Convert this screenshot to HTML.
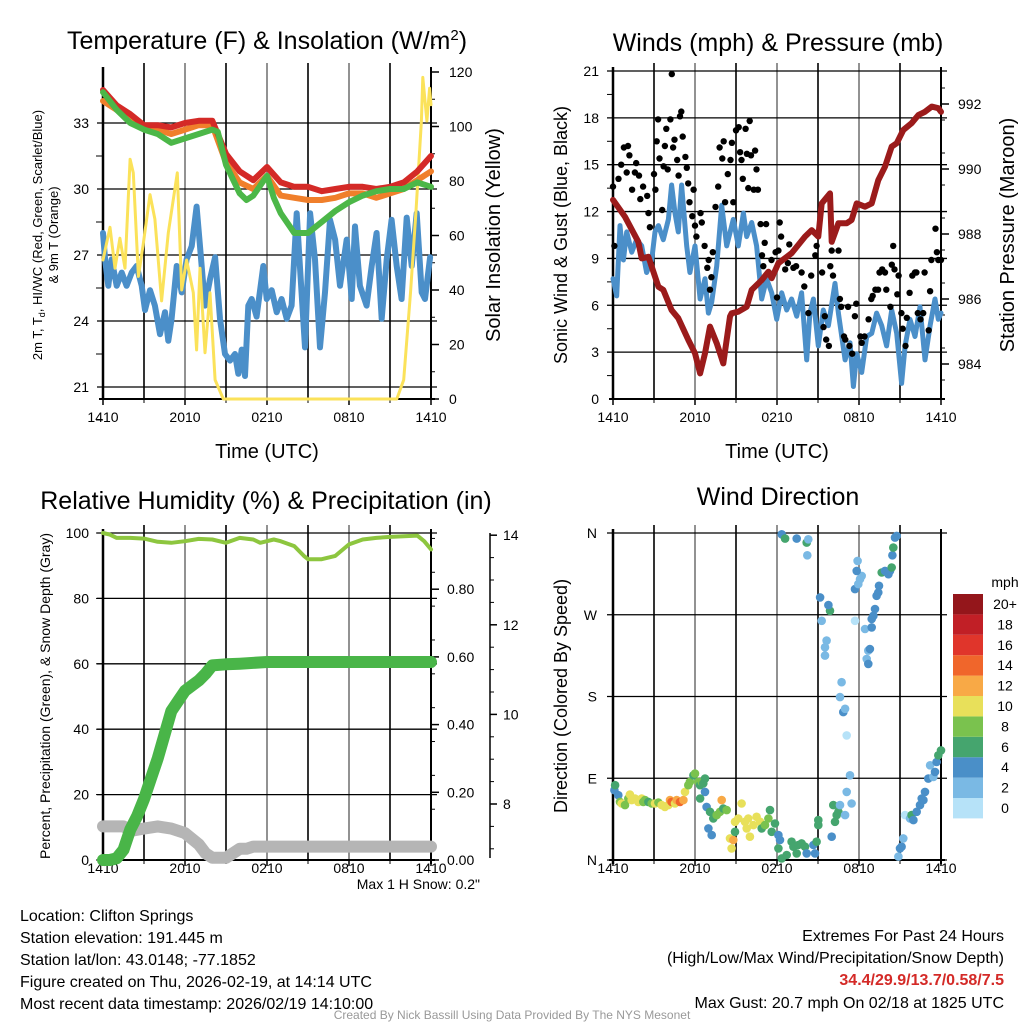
<!DOCTYPE html>
<html><head><meta charset="utf-8"><style>
body{margin:0;background:#fff;}
svg{display:block;font-family:"Liberation Sans",sans-serif;}
</style></head><body>
<svg id="c" width="1024" height="1024" viewBox="0 0 1024 1024">
<rect width="1024" height="1024" fill="#fff"/>
<text x="267" y="49" font-size="25" text-anchor="middle">Temperature (F) &amp; Insolation (W/m<tspan dy="-9" font-size="15">2</tspan><tspan dy="9">)</tspan></text>
<text x="778" y="51" font-size="25" text-anchor="middle">Winds (mph) &amp; Pressure (mb)</text>
<text x="266" y="509" font-size="25" text-anchor="middle">Relative Humidity (%) &amp; Precipitation (in)</text>
<text x="778" y="505" font-size="25" text-anchor="middle">Wind Direction</text>
<text transform="translate(42,235) rotate(-90)" font-size="13" text-anchor="middle">2m T, T<tspan dy="3" font-size="9">d</tspan><tspan dy="-3">, HI/WC (Red, Green, Scarlet/Blue)</tspan></text>
<text transform="translate(58,235) rotate(-90)" font-size="13" text-anchor="middle">&amp; 9m T (Orange)</text>
<text transform="translate(500,235) rotate(-90)" font-size="20" text-anchor="middle">Solar Insolation (Yellow)</text>
<text transform="translate(567,235) rotate(-90)" font-size="18" text-anchor="middle">Sonic Wind &amp; Gust (Blue, Black)</text>
<text transform="translate(1014,235) rotate(-90)" font-size="20" text-anchor="middle">Station Pressure (Maroon)</text>
<text transform="translate(50,696) rotate(-90)" font-size="14" text-anchor="middle">Percent, Precipitation (Green), &amp; Snow Depth (Gray)</text>
<text transform="translate(567,696) rotate(-90)" font-size="18" text-anchor="middle">Direction (Colored By Speed)</text>
<text x="267" y="458" font-size="20" text-anchor="middle">Time (UTC)</text>
<text x="777" y="458" font-size="20" text-anchor="middle">Time (UTC)</text>
<text x="480" y="889" font-size="14" text-anchor="end">Max 1 H Snow: 0.2"</text>
<g font-size="16">
<text x="20" y="921">Location: Clifton Springs</text>
<text x="20" y="943">Station elevation: 191.445 m</text>
<text x="20" y="965">Station lat/lon: 43.0148; -77.1852</text>
<text x="20" y="987">Figure created on Thu, 2026-02-19, at 14:14 UTC</text>
<text x="20" y="1009">Most recent data timestamp: 2026/02/19 14:10:00</text>
</g>
<g font-size="16" text-anchor="end">
<text x="1004" y="941">Extremes For Past 24 Hours</text>
<text x="1004" y="963">(High/Low/Max Wind/Precipitation/Snow Depth)</text>
<text x="1004" y="985" fill="#d42a27" font-weight="bold">34.4/29.9/13.7/0.58/7.5</text>
<text x="1004" y="1008">Max Gust: 20.7 mph On 02/18 at 1825 UTC</text>
</g>
<text x="512" y="1019" font-size="12" fill="#999" text-anchor="middle">Created By Nick Bassill Using Data Provided By The NYS Mesonet</text>
<g id="g"></g>
</svg>
<script>
// ---- data ----
const xTickLabels=["1410","2010","0210","0810","1410"];
const tempTicks=[21,24,27,30,33];
const solarTicks=[0,20,40,60,80,100,120];
const windTicks=[0,3,6,9,12,15,18,21];
const presTicks=[984,986,988,990,992];
const rhTicks=[0,20,40,60,80,100];
const precipTicks=["0.00","0.20","0.40","0.60","0.80"];
const snowTicks=[8,10,12,14];
const dirTicks=["N","E","S","W","N"];
const speedBins=["0","2","4","6","8","10","12","14","16","18","20+"];
const hrsHourly=[0,1,2,3,4,5,6,7,8,9,10,11,12,13,14,15,16,17,18,19,20,21,22,23,24];
const tRed=[34.5,33.8,33.4,32.9,32.9,32.8,33.0,33.1,33.1,31.6,30.8,30.4,31.0,30.3,30.1,30.1,29.9,30.0,30.1,30.1,30.0,30.1,30.3,30.8,31.5];
const tOrange=[34.0,33.6,33.1,32.8,32.7,32.5,32.7,32.9,32.9,31.2,30.3,30.0,30.6,29.7,29.6,29.5,29.5,29.6,29.8,29.8,29.6,29.8,30.0,30.4,30.8];
const tGreenHrs=[0,1,2,3,4,5,6,7,8,8.4,9,10,10.5,11,12,12.5,13,14,15,16,17,18,19,20,21,22,23,24];
const tGreen=[34.4,33.6,33.0,32.7,32.5,32.1,32.3,32.5,32.7,32.6,31.1,29.8,29.5,29.7,30.6,29.6,28.9,28.0,28.0,28.5,29.0,29.4,29.7,29.9,30.0,30.0,30.3,30.1];
const tdHrs=[0,0.15,0.39,0.63,1.0,1.37,1.73,2.1,2.46,2.83,3.07,3.44,3.8,4.17,4.54,4.78,5.02,5.39,5.76,6.12,6.49,6.85,7.1,7.46,7.83,8.2,8.56,8.93,9.29,9.66,9.9,10.15,10.39,10.63,10.88,11.24,11.73,11.98,12.34,12.71,13.07,13.44,13.8,14.17,14.41,14.78,15.15,15.51,15.88,16.24,16.61,16.98,17.34,17.83,18.2,18.44,18.8,19.29,19.66,20.02,20.39,20.76,21.12,21.49,21.85,22.22,22.59,22.95,23.32,23.56,23.93];
const tDew=[28.0,26.8,25.6,26.8,25.6,26.2,25.6,26.2,26.5,25.6,24.5,25.4,24.7,23.4,24.4,23.1,24.1,26.5,25.3,26.8,27.4,29.2,27.4,24.7,25.9,26.9,24.1,22.5,22.2,22.5,21.6,22.7,21.5,24.7,25.0,24.2,26.5,25.0,25.4,24.4,25.0,24.1,24.7,28.9,26.5,22.8,28.9,26.8,22.8,25.3,28.6,27.7,25.6,27.7,25.0,28.3,25.6,24.7,26.5,28.0,24.1,26.8,28.6,26.5,25.0,28.7,26.5,28.9,25.3,25.0,26.9];
const solHrs=[0,0.51,0.88,1.24,1.61,1.98,2.22,2.59,2.95,3.44,3.8,4.29,4.78,5.44,5.76,6.12,6.61,6.85,7.1,7.46,7.83,8.2,8.8,12,16,21.5,22.0,22.5,22.9,23.3,23.4,23.7,23.9,24];
const solar=[51,63,48,59,48,88,83,45,57,75,66,36,61,83,40,51,39,18,48,17,39,7,0,0,0,0,7,39,69,102,118,102,114,108];
const windHrs=[0,0.27,0.51,0.76,1.0,1.37,1.73,2.1,2.46,2.83,3.07,3.32,3.68,4.05,4.29,4.54,4.78,5.02,5.39,5.63,6.0,6.37,6.73,6.98,7.22,7.59,7.95,8.32,8.8,9.17,9.54,9.78,10.15,10.51,10.88,11.24,11.61,11.98,12.34,12.71,13.07,13.44,13.8,14.17,14.41,14.66,15.02,15.39,15.76,16.24,16.49,16.98,17.34,17.59,17.83,18.2,18.56,18.93,19.29,19.66,20.02,20.39,20.76,21.12,21.37,21.73,22.1,22.46,22.83,23.2,23.56,23.8,24];
const wind=[7.7,6.6,11.1,8.9,10.7,9.4,10.2,9.8,8.1,8.9,10.7,11.1,10.2,11.5,13.7,11.9,10.7,13.7,9.8,8.1,9.8,6.4,7.7,5.5,6.2,8.5,12.4,9.8,11.5,9.8,11.9,10.4,11.3,9.8,6.4,7.7,6.8,5.1,6.8,5.7,6.4,5.3,6.8,2.5,5.5,6.4,3.4,5.7,4.7,7.4,5.5,2.5,3.6,0.8,2.9,1.7,4.0,4.2,5.5,4.7,3.4,5.7,4.2,1.0,3.4,5.1,4.0,5.9,2.5,4.7,6.4,5.1,5.5];
const gustHrs=[0.0,0.1,0.4,0.6,0.8,1.1,1.0,1.2,1.4,1.6,1.7,1.9,2.0,2.2,2.5,2.6,2.7,3.0,3.1,3.2,3.3,3.4,3.6,3.7,3.8,3.9,4.0,4.2,4.3,4.4,4.5,4.7,4.8,4.9,5.0,5.1,5.3,5.4,5.5,5.6,5.8,5.9,6.0,6.1,6.4,6.5,6.7,6.9,7.0,7.1,7.2,7.3,7.5,7.7,7.8,8.0,8.1,8.2,8.4,8.6,8.7,8.8,9.0,9.2,9.3,9.4,9.5,9.7,9.8,9.9,10.0,10.1,10.3,10.4,10.5,10.6,10.8,10.9,11.0,11.1,11.2,11.4,11.6,11.9,12.0,12.1,12.2,12.3,12.6,12.8,12.9,13.2,13.4,13.8,14.0,14.3,14.5,14.8,14.9,15.3,15.4,15.5,15.6,15.8,15.9,16.0,16.1,16.5,16.6,16.7,16.9,17.0,17.2,17.3,17.5,17.7,17.8,18.1,18.2,18.4,18.7,18.9,19.0,19.2,19.4,19.5,19.7,19.9,20.0,20.3,20.4,20.5,20.6,20.8,20.9,21.1,21.2,21.4,21.5,21.7,21.9,22.1,22.2,22.3,22.5,22.7,22.8,23.1,23.2,23.3,23.6,23.7,23.8,24.0];
const gust=[13.6,9.8,14.1,15.0,16.1,16.2,14.5,15.6,13.4,14.5,15.1,14.3,12.8,13.6,13.0,11.9,11.0,14.4,13.4,16.5,17.9,15.4,12.1,14.9,16.2,17.3,14.7,17.9,20.8,16.1,16.6,15.3,14.3,18.1,18.4,16.8,15.5,14.8,13.8,12.6,11.7,13.4,11.1,10.4,11.9,11.3,9.8,8.4,8.9,7.0,7.8,9.4,12.3,13.6,16.1,15.4,16.5,12.6,14.4,15.3,16.4,12.6,17.2,17.4,15.8,15.3,14.1,17.3,15.7,13.5,17.8,15.6,13.4,15.9,14.7,13.4,11.2,9.2,8.5,10.0,11.2,8.1,8.9,9.4,6.5,9.5,11.3,10.4,8.3,8.7,9.9,8.4,8.5,8.1,7.2,5.5,7.9,9.2,9.8,8.1,4.6,5.3,3.8,3.4,8.5,9.5,7.9,9.5,6.4,5.9,4.0,3.8,5.9,3.4,2.9,5.3,6.1,4.0,3.6,4.0,5.1,6.4,6.6,7.0,7.0,8.1,8.3,8.1,7.0,5.9,8.6,9.8,8.3,6.7,7.9,5.5,4.5,3.4,5.2,6.8,7.9,8.1,8.1,5.5,5.1,5.5,8.1,4.4,6.9,8.9,10.9,9.4,8.9,8.9];
const presHrs=[0,0.88,1.85,2.1,2.59,3.32,3.68,4.29,4.78,5.51,6.0,6.37,6.73,7.1,7.59,8.07,8.56,8.68,9.17,9.78,10.15,10.88,11.37,11.61,12.1,13.07,14.05,14.54,15.02,15.27,15.88,16.0,16.49,17.1,17.46,17.83,18.44,18.93,19.41,19.9,20.39,20.76,21.24,21.85,22.34,22.83,23.32,23.8,24];
const pressure=[989.05,988.53,987.76,987.25,987.3,986.38,986.28,985.66,985.41,984.74,984.33,983.71,984.33,985.15,984.64,984.02,985.46,985.56,985.61,985.76,986.28,986.58,986.84,986.64,987.1,987.41,987.92,988.12,987.92,988.94,989.25,987.76,988.33,988.33,988.43,988.94,988.84,988.94,989.66,990.07,990.69,990.79,991.2,991.41,991.66,991.76,991.92,991.87,991.76];
const rhHrs=[0,0.5,1,2,3,4,5,6,7,8,9,10,11,11.5,12.5,13,14,14.7,15,16,17,18,19,20,21,22,23,23.5,24];
const rh=[100,99.5,98.5,98.5,98.3,97.3,97.0,97.5,98.2,98.0,97.0,98.5,98.0,97.0,98.0,97.5,96.0,93.0,92.0,92.0,93.0,96.5,98.0,98.5,98.8,99.0,99.2,97.5,95.0];
const pcpHrs=[0,0.5,1,1.5,2,2.5,3,3.5,4,4.5,5,5.5,6,6.5,7,7.5,8,9,10,12,24];
const precip=[0,0,0.005,0.03,0.09,0.13,0.18,0.24,0.30,0.37,0.44,0.47,0.50,0.515,0.53,0.55,0.575,0.578,0.58,0.585,0.585];
const snowHrs=[0,1.5,2,3,4,5,6,7,7.5,8,9,10,10.5,11,12,24];
const snow=[7.5,7.5,7.4,7.45,7.5,7.45,7.35,7.1,6.9,6.8,6.8,7.0,7.0,7.05,7.05,7.05];
const dirHrs=[0.10,0.15,0.39,0.51,0.63,0.88,1.12,1.24,1.37,1.61,1.85,2.10,2.22,2.34,2.59,2.83,3.07,3.32,3.56,3.80,4.05,4.17,4.29,4.54,4.66,4.90,5.15,5.27,5.51,5.63,5.88,6.00,6.24,6.37,6.49,6.61,6.73,6.73,6.37,6.85,7.10,7.34,7.59,7.83,7.95,8.07,8.32,6.98,7.22,8.56,8.68,8.80,8.93,8.93,9.17,9.41,9.66,9.78,9.90,10.02,10.27,10.51,10.76,10.88,11.12,11.37,11.49,11.61,11.85,12.10,12.22,12.10,12.34,12.71,13.07,13.20,13.44,13.56,13.80,14.05,14.17,14.66,14.78,14.90,15.02,15.02,16.0,16.12,16.24,16.37,16.49,16.61,16.98,17.10,17.46,17.34,17.10,16.85,16.98,16.61,16.73,15.51,15.63,15.51,15.27,15.88,15.76,15.15,17.71,18.44,18.68,18.80,18.56,18.68,18.93,18.93,19.05,19.17,19.29,19.41,19.46,19.66,19.90,20.15,20.27,20.39,20.44,20.51,20.63,20.76,17.71,17.95,18.07,18.20,17.90,17.83,13.44,12.34,12.59,14.17,14.29,14.22,20.88,21.0,21.12,21.24,21.37,21.73,21.85,21.98,22.22,22.46,22.59,22.71,22.83,23.07,23.20,23.44,23.56,23.68,23.80,24.0];
const dirDeg=[76.8,82.3,71.3,64.0,62.2,60.4,67.7,72.1,65.9,67.7,64.0,67.7,64.0,65.9,64.0,62.2,62.2,63.3,60.4,58.5,60.4,65.9,64.0,62.2,65.9,64.0,65.9,75.0,82.3,86.0,93.3,95.1,86.0,82.3,86.0,84.2,89.6,75.0,67.7,58.5,53.1,45.7,49.4,53.1,65.9,56.7,54.9,34.8,27.4,23.8,12.8,22.0,31.1,42.1,45.7,62.2,42.1,34.8,45.7,25.6,38.4,47.6,42.1,34.8,38.4,45.7,54.9,31.1,40.2,27.4,22.0,12.8,1.8,5.5,20.1,14.6,7.3,16.5,18.3,14.6,7.3,16.5,7.3,20.1,38.4,43.9,25.6,60.4,42.1,49.4,53.1,60.4,49.4,75.0,62.2,93.3,137.2,162.8,166.5,179.3,195.8,225.0,241.5,234.2,263.4,274.4,280.6,289.1,263.4,254.3,230.5,232.3,221.4,215.9,256.1,265.3,268.9,276.3,290.9,294.5,301.9,316.5,318.3,314.7,318.3,322.0,335.5,343.9,354.9,356.8,298.2,303.7,309.2,312.8,329.3,318.3,353.8,358.6,353.8,349.4,353.1,335.5,3.7,12.8,14.6,23.8,49.4,45.7,49.4,43.9,53.1,60.4,67.7,65.9,75.0,89.6,104.3,91.5,97.0,107.9,115.3,120.7];
const dirSpeed=[5,7,5,9,11,9,9,11,11,11,11,11,9,9,7,9,11,9,11,11,11,13,15,11,13,15,13,11,9,9,7,9,9,7,9,7,7,5,7,5,7,7,9,9,13,7,9,5,5,11,11,13,7,11,11,11,11,11,11,11,11,11,11,7,9,9,7,7,7,5,5,7,7,7,7,7,7,7,7,7,5,5,5,7,7,7,5,7,7,7,7,3,3,3,3,3,1,5,3,3,3,3,3,3,3,7,5,5,1,3,3,5,3,5,5,5,5,5,5,5,5,7,5,5,5,7,5,7,5,5,5,3,3,3,3,5,5,5,7,7,3,3,3,5,5,3,1,3,7,5,5,5,5,5,5,5,3,3,5,5,7,7,5,7];
const binColors=["#b6e2f8","#7ab9e4","#4a8fc8","#45a56e","#7ac24e","#e8e05a","#f8a946","#f0662b","#e0352b","#c11f26","#94161b"];

// ---- helpers ----
const NS="http://www.w3.org/2000/svg";
const G=document.getElementById('g');
function mk(tag,attrs,parent){const e=document.createElementNS(NS,tag);for(const k in attrs)e.setAttribute(k,attrs[k]);(parent||G).appendChild(e);return e;}
function txt(x,y,s,size,anchor){const e=mk('text',{x:x,y:y,'font-size':size,'text-anchor':anchor||'middle'});e.textContent=s;return e;}
function pathFrom(xs,ys,fx,fy){let d='';for(let i=0;i<xs.length;i++){d+=(i?'L':'M')+fx(xs[i]).toFixed(1)+','+fy(ys[i]).toFixed(1);}return d;}

// scales
const xL=h=>103+h*13.667, xR=h=>613+h*13.667;
const yT=t=>189-(t-30)*22, yS=w=>399-w*2.725;
const yW=m=>399-m*15.62, yP=p=>364-(p-984)*32.5;
const yRH=r=>860-r*3.27, yPc=p=>860-p*338.5, ySn=s=>804-(s-8)*44.8;
const yD=d=>860-d*0.9083;

function grid(x0,y0,x1,y1,hLines,gname){
  const g=mk('g',{});
  
  
  for(let i=1;i<8;i++){const x=x0+i*41;mk('line',{x1:x,y1:y0-8,x2:x,y2:y1,stroke:i%2?'#000':'#777','stroke-width':1.6},g);}
  hLines.forEach(y=>mk('line',{x1:x0-6,y1:y,x2:x1+6,y2:y,stroke:'#000','stroke-width':1.3},g));
}
function xAxis(x0,y1,name,off){
  const g=mk('g',{});
  
  
  mk('line',{x1:x0-4,y1:y1,x2:x0+332,y2:y1,stroke:'#000','stroke-width':2},g);
  xTickLabels.forEach((s,i)=>{const x=x0+i*82;mk('line',{x1:x,y1:y1,x2:x,y2:y1+6,stroke:'#000','stroke-width':1.5},g);const t=txt(x,y1+off,s,14);g.appendChild(t);});
  for(let i=1;i<8;i+=2){const x=x0+i*41;mk('line',{x1:x,y1:y1,x2:x,y2:y1+4,stroke:'#000'},g);}
}
function line(xs,ys,fx,fy,color,w,name){const p=mk('path',{d:pathFrom(xs,ys,fx,fy),fill:'none',stroke:color,'stroke-width':w,'stroke-linejoin':'round','stroke-linecap':'round'});return p;}

// ===== Panel TL =====
grid(103,71,431,399,tempTicks.map(yT),'temperature-grid');
mk('line',{x1:103,y1:67,x2:103,y2:399,stroke:'#000','stroke-width':2.5});
mk('line',{x1:431,y1:67,x2:431,y2:399,stroke:'#000','stroke-width':2});
tempTicks.forEach(t=>{const y=yT(t);const l=txt(89,y+5,String(t),14,'end');mk('line',{x1:96,y1:y+33,x2:103,y2:y+33,stroke:'#000'});});
solarTicks.forEach(w=>{const y=yS(w);mk('line',{x1:431,y1:y,x2:439,y2:y,stroke:'#000','stroke-width':1.5});mk('line',{x1:431,y1:y-27.25,x2:435,y2:y-27.25,stroke:'#000'});const l=txt(449,y+5,String(w),14,'start');});
xAxis(103,399,'temperature-x-axis',23);
line(tdHrs,tDew,xL,yT,'#4b8fc9',6,'dewpoint-line');
line(solHrs,solar,xL,yS,'#fbe25a',3,'solar-insolation-line');
line(hrsHourly,tOrange,xL,yT,'#f07f2b',6,'temp-9m-line');
line(hrsHourly,tRed,xL,yT,'#d42a27',6,'temp-2m-line');
line(tGreenHrs,tGreen,xL,yT,'#4cb748',6,'heat-index-windchill-line');

// ===== Panel TR =====
grid(613,71,941,399,windTicks.slice(1).map(yW),'winds-grid');
mk('line',{x1:613,y1:67,x2:613,y2:399,stroke:'#000','stroke-width':2.5});
mk('line',{x1:941,y1:67,x2:941,y2:399,stroke:'#000','stroke-width':2});
windTicks.forEach(m=>{const y=yW(m);const l=txt(599,y+5,String(m),14,'end');if(m<21)mk('line',{x1:607,y1:y-23.4,x2:613,y2:y-23.4,stroke:'#000'});});
presTicks.forEach(p=>{const y=yP(p);mk('line',{x1:941,y1:y,x2:949,y2:y,stroke:'#000','stroke-width':1.5});mk('line',{x1:941,y1:y-16,x2:945,y2:y-16,stroke:'#000'});mk('line',{x1:941,y1:y+16,x2:945,y2:y+16,stroke:'#000'});const l=txt(958,y+5,String(p),14,'start');});
xAxis(613,399,'winds-x-axis',23);
line(windHrs,wind,xR,yW,'#4b8fc9',5,'sonic-wind-line');
gustHrs.forEach((h,i)=>{const c=mk('circle',{cx:xR(h).toFixed(1),cy:yW(gust[i]).toFixed(1),r:3.2,fill:'#000'});

});
line(presHrs,pressure,xR,yP,'#9b1b1b',6,'pressure-line');

// ===== Panel BL =====
grid(103,533,431,860,[yRH(20),yRH(40),yRH(60),yRH(80),yRH(100)],'humidity-grid');
mk('line',{x1:103,y1:529,x2:103,y2:860,stroke:'#000','stroke-width':2.5});
mk('line',{x1:431,y1:529,x2:431,y2:864,stroke:'#000','stroke-width':2});
rhTicks.forEach(r=>{const y=yRH(r);const l=txt(89,y+5,String(r),14,'end');mk('line',{x1:96,y1:y,x2:103,y2:y,stroke:'#000'});});
precipTicks.forEach(s=>{const y=yPc(parseFloat(s));mk('line',{x1:431,y1:y,x2:439,y2:y,stroke:'#000','stroke-width':1.5});const l=txt(447,y+5,s,14,'start');});
for(let v=0.05;v<0.99;v+=0.1){const y=yPc(v);mk('line',{x1:431,y1:y,x2:435,y2:y,stroke:'#000'});}
mk('line',{x1:490,y1:533,x2:490,y2:858,stroke:'#000','stroke-width':1.5});
snowTicks.forEach(s=>{const y=ySn(s);mk('line',{x1:490,y1:y,x2:497,y2:y,stroke:'#000','stroke-width':1.5});const l=txt(503,y+5,String(s),14,'start');});
for(let s=7;s<14;s+=0.5){if(s%2===0)continue;const y=ySn(s);mk('line',{x1:490,y1:y,x2:494,y2:y,stroke:'#000'});}
xAxis(103,860,'humidity-x-axis',13);
line(rhHrs,rh,xL,yRH,'#8dc63f',4,'relative-humidity-line');
line(snowHrs,snow,xL,ySn,'#b5b5b5',12,'snow-depth-line');
line(pcpHrs,precip,xL,yPc,'#49b548',12,'precipitation-line');

// ===== Panel BR =====
grid(613,533,941,860,[yD(0),yD(90),yD(180),yD(270),yD(360)],'direction-grid');
mk('line',{x1:613,y1:529,x2:613,y2:864,stroke:'#000','stroke-width':2.5});
mk('line',{x1:941,y1:529,x2:941,y2:864,stroke:'#000','stroke-width':2});
dirTicks.forEach((s,i)=>{const y=yD(i*90);const l=txt(597,y+5,s,14,'end');});
xAxis(613,860,'direction-x-axis',13);
dirHrs.forEach((h,i)=>{const bin=Math.min(10,Math.floor(dirSpeed[i]/2));const c=mk('circle',{cx:xR(h).toFixed(1),cy:yD(dirDeg[i]).toFixed(1),r:4.3,fill:binColors[bin]});

});
// colorbar
const cb=mk('g',{});


const mph=txt(1005,587,'mph',14);cb.appendChild(mph);
speedBins.forEach((s,i)=>{const y=594+(10-i)*20.4;mk('rect',{x:953,y:y,width:30,height:20.4,fill:binColors[i]},cb);const l=txt(1005,y+15,s,14);cb.appendChild(l);});
</script>
</body></html>
